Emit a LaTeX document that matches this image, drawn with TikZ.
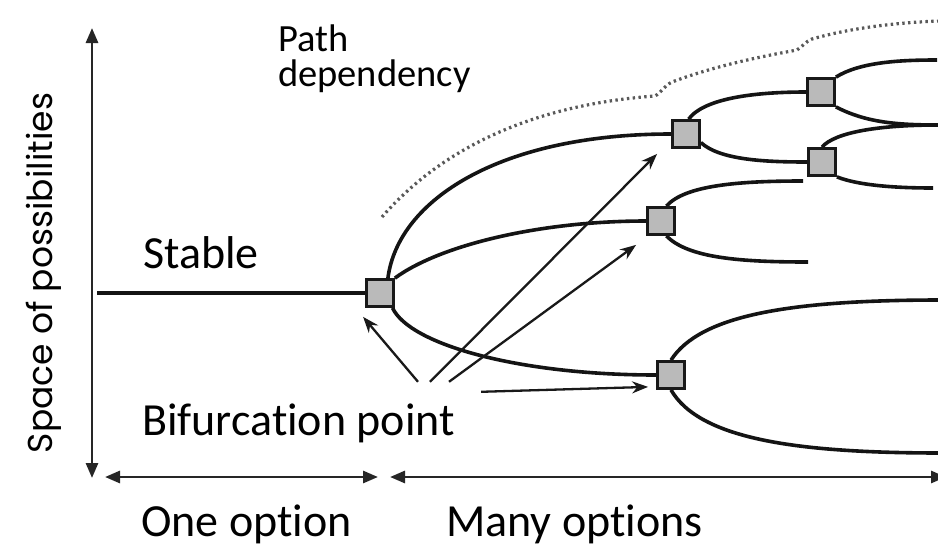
\documentclass[tikz,border=0pt]{standalone}
\usepackage{fontspec}
\setmainfont{Carlito}[Ligatures=NoCommon]
\newfontfamily\axisfont{Poppins}
\usetikzlibrary{arrows.meta,calc}
\pgfdeclarelayer{bg}
\pgfsetlayers{bg,main}
\begin{document}
\begin{tikzpicture}[x=1pt,y=-1pt,
  sq/.style={draw=black!90,fill=black!27,line width=2.8pt,minimum size=27pt,inner sep=0pt},
  branch/.style={line width=3.6pt,draw=black!92},
  pointer/.style={line width=2.3pt,draw=black!90,-{Stealth[length=16pt,width=12pt]}},
  axis/.style={line width=2.8pt,draw=black!85,{Triangle[length=15pt,width=12pt]}-{Triangle[length=15pt,width=12pt]}},
  dotline/.style={line width=3.2pt,draw=black!65,dash pattern=on 2.4pt off 3.4pt},
  lbl/.style={inner sep=0pt,anchor=base west,font=\fontsize{46}{50}\selectfont}]
\useasboundingbox (0,0) rectangle (938,552);
\clip (0,0) rectangle (938,552);

% bifurcation squares
\node[sq] (s1) at (380,293) {};
\node[sq] (s2) at (686,134) {};
\node[sq] (s3) at (661,221) {};
\node[sq] (s4) at (821,92) {};
\node[sq] (s5) at (822,162) {};
\node[sq] (s6) at (671,375) {};

% free ends
\coordinate (st) at (97,293);
\coordinate (e1) at (937,60);
\coordinate (e2) at (938,125);
\coordinate (e3) at (933,188);
\coordinate (e4) at (803,181);
\coordinate (e5) at (808,262);
\coordinate (e6) at (942,300);
\coordinate (e7) at (942,453);

% texts
\node[inner sep=0pt,anchor=north west,align=left,font=\fontsize{38.5}{35}\selectfont] (path) at (278,25) {Path\\dependency};
\node[lbl] (stable) at (143,268) {Stable};
\node[lbl,fill=white,inner xsep=26pt,inner ysep=21pt,text height=32pt,text depth=10pt] (bp) at (116,435) {Bifurcation point};
\node[lbl] (one) at (141,536) {One option};
\node[lbl] (many) at (446,536) {Many options};
\node[rotate=90,anchor=base,inner sep=0pt,font=\axisfont\fontsize{34.5}{40}\selectfont] (ylabel) at (52,273) {Space of possibilities};

% axes
\coordinate (vtop) at (92,28);
\coordinate (vbot) at (92,478);
\coordinate (h1) at (105,477);
\coordinate (h2) at (378,477);
\coordinate (h3) at (390,477);
\coordinate (h4) at (946,477);
\draw[axis] (vbot) -- (vtop);
\draw[axis] (h1) -- (h2);
\draw[axis] (h3) -- (h4);

\begin{pgfonlayer}{bg}
\fill[white] (0,0) rectangle (938,552);
% path dependency envelope
\draw[dotline] (382,217) .. controls (440,150) and (530,105) .. (655,96)
  .. controls (662,92) and (664,86) .. (672,82)
  .. controls (720,64) and (770,55) .. (797,50)
  .. controls (803,46) and (805,42) .. (812,39)
  .. controls (850,28) and (900,22) .. (942,21);
% branches
\draw[branch] (st) -- (s1.west);
\draw[branch] (s1.62) .. controls (398,200) and (500,134) .. (s2.west);
\draw[branch] (s1.45) .. controls (440,245) and (540,221) .. (s3.west);
\draw[branch] (s1.-50) .. controls (410,345) and (520,375) .. (s6.west);
\draw[branch] (s2.80) .. controls (705,97) and (760,92) .. (s4.west);
\draw[branch] (s2.-30) .. controls (720,160) and (765,162) .. (s5.west);
\draw[branch] (s4.north east) .. controls (860,62) and (900,60) .. (e1);
\draw[branch] (s4.south east) .. controls (865,122) and (895,125) .. (e2);
\draw[branch] (s5.north) .. controls (835,132) and (880,125) .. (e2);
\draw[branch] (s5.south east) .. controls (860,186) and (900,188) .. (e3);
\draw[branch] (s3.70) .. controls (685,185) and (740,181) .. (e4);
\draw[branch] (s3.-70) .. controls (688,258) and (740,262) .. (e5);
\draw[branch] (s6.north) .. controls (700,315) and (790,300) .. (e6);
\draw[branch] (s6.south) .. controls (700,440) and (800,453) .. (e7);
\end{pgfonlayer}

% pointers from the label
\draw[pointer] ($(bp.north west)+(302,0)$) -- ($(s1.south west)+(-2,9)$);
\draw[pointer] ($(bp.north west)+(314,0)$) -- ($(s2.south west)+(-14,5)$);
\draw[pointer] ($(bp.north west)+(333,0)$) -- ($(s3.south west)+(-10,9)$);
\draw[pointer] ($(bp.north east)+(0,10)$) -- ($(s6.south west)+(-8,-3)$);
\end{tikzpicture}
\end{document}
